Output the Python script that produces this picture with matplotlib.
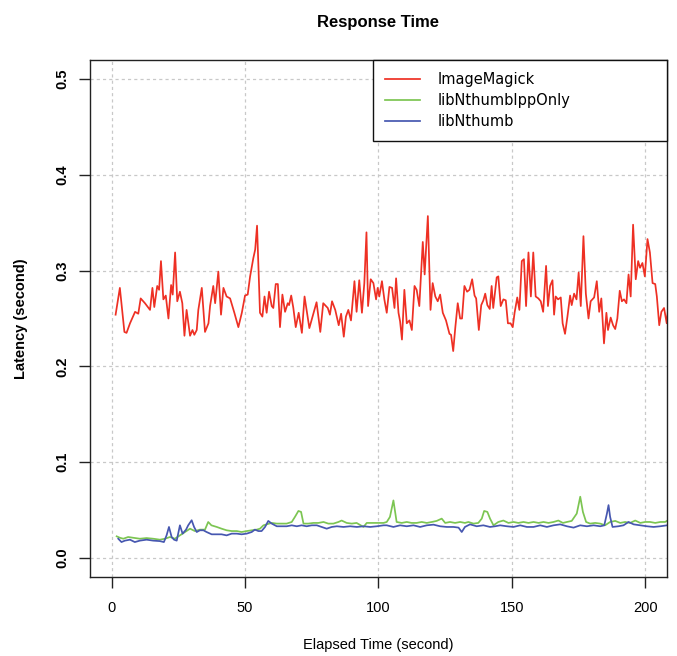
import matplotlib
matplotlib.use("Agg")
import matplotlib.pyplot as plt

# values (elapsed time in s, latency in s)
magick_time = [1.5, 3.1, 4.8, 5.6, 6.9, 8.8, 10.0, 10.9, 12.5, 14.4, 15.3, 16.0, 17.1, 17.8, 18.5, 19.4,
               20.3, 21.3, 22.3, 22.9, 23.8, 24.6, 25.6, 26.5, 27.3, 28.1, 29.4, 30.3, 31.0, 31.9, 32.5,
               33.8, 35.0, 36.3, 36.9, 38.1, 38.8, 40.0, 41.0, 41.9, 43.1, 44.4, 46.0, 47.5, 48.8, 50.0,
               51.0, 51.9, 53.1, 53.8, 54.5, 55.3, 55.6, 56.5, 57.3, 58.1, 59.0, 60.0, 60.6, 61.5, 62.3,
               63.1, 64.0, 65.0, 66.0, 66.5, 67.3, 68.1, 69.0, 70.1, 71.3, 72.3, 74.1, 75.3, 76.8, 78.2,
               79.3, 81.0, 81.8, 82.6, 83.8, 85.1, 86.0, 87.0, 87.8, 88.7, 89.7, 91.0, 91.8, 92.8, 93.8,
               94.7, 95.5, 96.1, 97.1, 98.1, 99.1, 99.7, 100.3, 101.3, 102.2, 103.1, 104.1, 105.1, 106.0,
               106.6, 107.5, 108.1, 108.8, 109.7, 110.6, 111.6, 112.5, 113.5, 114.3, 115.3, 116.6, 117.3,
               118.5, 119.5, 120.3, 121.3, 122.2, 123.1, 124.1, 125.3, 126.6, 127.2, 128.0, 128.8, 129.7,
               130.6, 131.3, 132.2, 133.2, 134.1, 135.1, 136.0, 136.6, 137.6, 138.5, 139.3, 140.0, 140.8,
               141.7, 142.4, 143.0, 144.3, 144.9, 145.8, 146.8, 147.7, 148.5, 149.5, 150.3, 151.0, 152.0,
               152.8, 153.7, 154.5, 155.3, 156.2, 157.1, 158.0, 158.9, 159.9, 160.8, 161.7, 162.8, 163.5,
               164.3, 165.2, 165.8, 166.4, 167.3, 168.3, 169.0, 169.9, 170.8, 171.8, 172.4, 173.3, 174.2,
               175.0, 175.8, 176.8, 177.7, 178.7, 179.5, 180.8, 181.8, 182.7, 183.5, 184.5, 185.4, 186.0,
               187.0, 187.9, 188.7, 189.5, 190.4, 191.2, 192.0, 192.9, 193.7, 194.5, 195.4, 196.4, 197.3,
               198.0, 198.9, 199.8, 200.8, 201.7, 202.7, 203.7, 204.3, 205.2, 206.0, 207.0, 208.0, 208.7]
magick_latency = [0.254, 0.282, 0.236, 0.235, 0.245, 0.257, 0.255, 0.271, 0.266, 0.259, 0.282, 0.262, 0.284,
                  0.280, 0.310, 0.270, 0.274, 0.250, 0.285, 0.275, 0.319, 0.268, 0.278, 0.266, 0.232, 0.259,
                  0.232, 0.238, 0.233, 0.238, 0.259, 0.282, 0.236, 0.245, 0.263, 0.284, 0.266, 0.299, 0.254,
                  0.282, 0.273, 0.271, 0.256, 0.241, 0.256, 0.274, 0.275, 0.294, 0.313, 0.322, 0.347, 0.280,
                  0.256, 0.252, 0.273, 0.256, 0.278, 0.263, 0.261, 0.286, 0.286, 0.241, 0.275, 0.257, 0.266,
                  0.264, 0.274, 0.261, 0.241, 0.256, 0.235, 0.273, 0.240, 0.252, 0.267, 0.236, 0.266, 0.261,
                  0.254, 0.268, 0.259, 0.243, 0.255, 0.231, 0.252, 0.259, 0.248, 0.289, 0.257, 0.290, 0.256,
                  0.287, 0.340, 0.263, 0.291, 0.287, 0.270, 0.282, 0.273, 0.289, 0.270, 0.256, 0.283, 0.282,
                  0.261, 0.292, 0.256, 0.247, 0.228, 0.280, 0.245, 0.248, 0.238, 0.284, 0.280, 0.263, 0.330,
                  0.296, 0.357, 0.259, 0.287, 0.273, 0.268, 0.275, 0.256, 0.248, 0.234, 0.233, 0.216, 0.241,
                  0.266, 0.250, 0.250, 0.284, 0.278, 0.280, 0.291, 0.274, 0.271, 0.238, 0.264, 0.269, 0.276,
                  0.264, 0.260, 0.284, 0.261, 0.293, 0.294, 0.263, 0.270, 0.269, 0.245, 0.245, 0.241, 0.256,
                  0.272, 0.259, 0.310, 0.312, 0.263, 0.319, 0.273, 0.319, 0.273, 0.271, 0.268, 0.257, 0.305,
                  0.263, 0.284, 0.290, 0.254, 0.273, 0.270, 0.272, 0.245, 0.234, 0.252, 0.274, 0.264, 0.276,
                  0.270, 0.298, 0.263, 0.336, 0.276, 0.250, 0.268, 0.272, 0.289, 0.257, 0.271, 0.224, 0.256,
                  0.238, 0.251, 0.243, 0.239, 0.250, 0.279, 0.268, 0.270, 0.266, 0.296, 0.273, 0.348, 0.291,
                  0.310, 0.303, 0.308, 0.294, 0.333, 0.319, 0.287, 0.286, 0.273, 0.243, 0.257, 0.261, 0.245,
                  0.265]

ipp_time = [1.9, 3.1, 4.4, 6.2, 8.1, 10.6, 13.1, 15.6, 18.1, 20.0, 21.9, 23.7, 25.6, 27.5, 29.4, 31.2,
            33.1, 35.0, 36.2, 37.4, 39.4, 41.2, 43.1, 45.0, 46.9, 48.7, 50.6, 52.5, 54.4, 55.6, 56.9,
            58.1, 60.0, 61.9, 63.7, 65.6, 67.5, 68.7, 70.0, 71.0, 71.9, 73.7, 75.6, 77.5, 79.4, 81.2,
            83.1, 85.0, 86.2, 88.1, 90.0, 91.8, 94.4, 95.6, 97.5, 99.4, 101.9, 103.1, 104.3, 105.6,
            106.8, 108.7, 110.6, 112.4, 114.3, 116.2, 118.1, 120.0, 121.8, 123.7, 125.0, 126.8, 128.7,
            130.6, 132.4, 133.7, 135.6, 137.4, 138.7, 139.6, 140.8, 141.8, 143.1, 144.9, 146.8, 148.7,
            150.6, 152.4, 154.3, 156.2, 158.1, 160.0, 161.8, 163.7, 165.6, 167.4, 169.1, 170.6, 172.4,
            174.3, 175.6, 176.6, 177.8, 179.3, 181.2, 183.1, 184.9, 186.8, 188.7, 190.6, 192.4, 194.3,
            196.2, 198.1, 199.9, 201.8, 203.7, 205.6, 207.4, 208.3]
ipp_latency = [0.0225, 0.021, 0.020, 0.0218, 0.021, 0.020, 0.0207, 0.020, 0.019, 0.020, 0.0218, 0.020,
               0.0235, 0.027, 0.0305, 0.028, 0.0295, 0.0295, 0.0375, 0.034, 0.0323, 0.0305, 0.0288, 0.028,
               0.028, 0.027, 0.028, 0.0288, 0.0295, 0.0305, 0.034, 0.035, 0.0365, 0.0358, 0.0358, 0.0358,
               0.0375, 0.0428, 0.049, 0.048, 0.0358, 0.0358, 0.0365, 0.0365, 0.0375, 0.0358, 0.0358,
               0.0375, 0.039, 0.0365, 0.0358, 0.0365, 0.0323, 0.0365, 0.0365, 0.0365, 0.0365, 0.0375,
               0.0428, 0.060, 0.0375, 0.0365, 0.0375, 0.0365, 0.0365, 0.0375, 0.0365, 0.0375, 0.0386,
               0.041, 0.0365, 0.0375, 0.0365, 0.0375, 0.0365, 0.0375, 0.0358, 0.0365, 0.041, 0.049, 0.048,
               0.041, 0.034, 0.0375, 0.039, 0.0365, 0.0375, 0.0365, 0.0375, 0.0365, 0.0375, 0.0365,
               0.0375, 0.0365, 0.0375, 0.039, 0.0365, 0.0375, 0.0386, 0.0463, 0.0639, 0.048, 0.0375,
               0.0358, 0.0365, 0.0358, 0.034, 0.0375, 0.0386, 0.0365, 0.0375, 0.0365, 0.039, 0.0365,
               0.0375, 0.0375, 0.0365, 0.0375, 0.0375, 0.039]

nthumb_time = [2.5, 3.7, 5.0, 6.9, 8.7, 10.6, 13.1, 15.6, 18.1, 19.6, 20.6, 21.5, 22.5, 23.4, 24.4, 25.6,
               26.6, 27.9, 28.7, 30.0, 30.9, 31.9, 33.1, 34.4, 35.6, 37.5, 39.4, 41.2, 43.1, 45.0, 46.9,
               48.7, 50.6, 52.5, 53.7, 55.0, 56.2, 57.5, 58.7, 60.0, 61.9, 63.7, 65.6, 67.5, 69.4, 71.2,
               73.1, 75.0, 76.9, 78.7, 80.6, 82.5, 84.4, 86.9, 89.4, 91.9, 94.4, 96.9, 99.4, 101.9, 103.1,
               105.6, 108.1, 110.6, 113.1, 115.6, 118.1, 120.6, 123.1, 125.6, 128.1, 130.0, 131.2, 132.4,
               134.3, 136.8, 139.3, 141.8, 143.7, 145.6, 148.1, 150.6, 153.1, 155.6, 158.1, 160.6, 163.1,
               165.6, 168.1, 170.6, 173.1, 175.6, 178.1, 180.6, 183.1, 184.6, 185.6, 186.2, 186.8, 187.7,
               189.9, 191.8, 193.7, 195.6, 198.1, 200.6, 203.1, 205.6, 208.1]
nthumb_latency = [0.020, 0.0165, 0.018, 0.019, 0.0165, 0.018, 0.019, 0.018, 0.0175, 0.0165, 0.0235, 0.0323,
                  0.0218, 0.019, 0.018, 0.034, 0.0253, 0.0295, 0.034, 0.0393, 0.0323, 0.027, 0.0288, 0.0288,
                  0.027, 0.0246, 0.0246, 0.0246, 0.0235, 0.0253, 0.0253, 0.0246, 0.0253, 0.027, 0.0295,
                  0.028, 0.028, 0.0323, 0.0386, 0.0358, 0.033, 0.033, 0.033, 0.034, 0.033, 0.034, 0.033,
                  0.034, 0.034, 0.0323, 0.0305, 0.0323, 0.033, 0.0323, 0.033, 0.0323, 0.033, 0.0323, 0.033,
                  0.034, 0.034, 0.0323, 0.034, 0.033, 0.034, 0.0323, 0.034, 0.0347, 0.033, 0.0323, 0.0323,
                  0.0316, 0.027, 0.0323, 0.035, 0.033, 0.034, 0.0323, 0.033, 0.034, 0.033, 0.0323, 0.034,
                  0.0323, 0.0323, 0.034, 0.0323, 0.034, 0.035, 0.033, 0.0316, 0.034, 0.033, 0.034, 0.033,
                  0.034, 0.0463, 0.0551, 0.0428, 0.0323, 0.033, 0.034, 0.0375, 0.035, 0.034, 0.033, 0.0323,
                  0.033, 0.034]

x_ticks = [0, 50, 100, 150, 200]
y_ticks = [0.0, 0.1, 0.2, 0.3, 0.4, 0.5]
y_tick_labels = ["0.0", "0.1", "0.2", "0.3", "0.4", "0.5"]

plt.rcParams['font.family'] = ['Liberation Sans', 'DejaVu Sans']

fig = plt.figure(figsize=(6.77, 6.56), dpi=100)
ax = fig.add_axes([0.1329, 0.1204, 0.8523, 0.7881])

# the three series, same order as the legend
ax.plot(magick_time, magick_latency, color='#EE3024', lw=1.25, label='ImageMagick')
ax.plot(ipp_time, ipp_latency, color='#7CC552', lw=1.25, label='libNthumbIppOnly')
ax.plot(nthumb_time, nthumb_latency, color='#4657B0', lw=1.25, label='libNthumb')

ax.set_xlim(-8.1, 208.1)
ax.set_ylim(-0.02, 0.52)
ax.set_xticks(x_ticks)
ax.set_yticks(y_ticks)
ax.set_yticklabels(y_tick_labels, rotation=90, va='center', fontweight='bold')

# R style dotted grid
ax.grid(True, color='#C8C8C8', linestyle=(0, (2.5, 2.5)), lw=0.9)
ax.set_axisbelow(True)

for s in ax.spines.values():
    s.set_color('#222222')
    s.set_linewidth(1.0)
ax.tick_params(direction='out', length=8, width=1.0, color='#222222', labelsize=10.5)
ax.tick_params(axis='x', pad=9)
ax.tick_params(axis='y', pad=7)

ax.set_title('Response Time', fontsize=12, fontweight='bold', pad=24)
ax.set_xlabel('Elapsed Time (second)', fontsize=10.5)
ax.set_ylabel('Latency (second)', fontsize=10.5, fontweight='bold')
ax.xaxis.set_label_coords(0.5, -0.1315)
ax.xaxis.label.set_va('center')
ax.yaxis.set_label_coords(-0.12, 0.5)
ax.yaxis.label.set_va('center')

# legend box sits in the top right corner, wide like the R one
leg = ax.legend(loc='upper right', bbox_to_anchor=(0.4905, 0.0, 0.5095, 1.0), mode='expand',
                prop={'family': 'DejaVu Sans', 'size': 10.5}, frameon=True, fancybox=False,
                edgecolor='#111111', framealpha=1.0, borderaxespad=0.0, borderpad=0.8,
                labelspacing=0.42, handlelength=2.4, handletextpad=1.2)
leg.get_frame().set_linewidth(1.0)

fig.savefig('out.png', dpi=100)
